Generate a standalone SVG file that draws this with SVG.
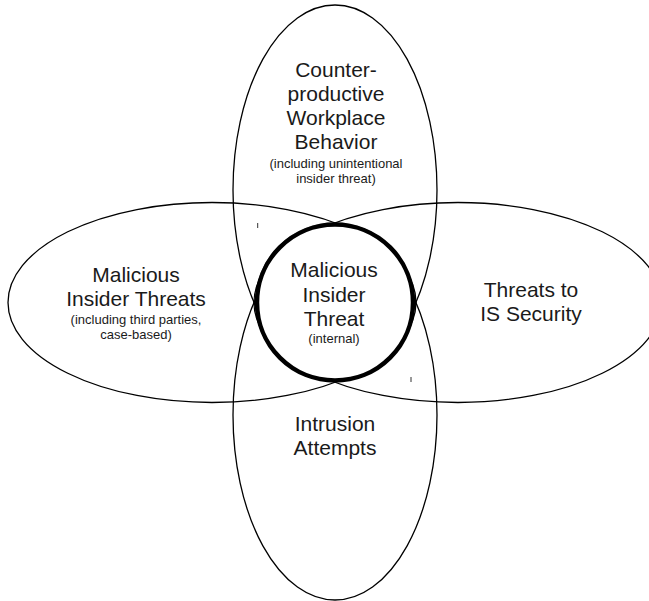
<svg xmlns="http://www.w3.org/2000/svg" width="649" height="601" viewBox="0 0 649 601">
<style>
.sh{fill:none;stroke:#000;stroke-width:1.3}
.t{font-family:"Liberation Sans",Arial,sans-serif;font-size:21px;fill:#1a1a1a;text-anchor:middle}
.s{font-family:"Liberation Sans",Arial,sans-serif;font-size:13px;fill:#1a1a1a;text-anchor:middle}
</style>
<rect width="649" height="601" fill="#fff"/>
<g id="counterproductive">
<ellipse class="sh" cx="335" cy="190" rx="102" ry="185"/>
<text class="t" x="336" y="77">Counter-</text>
<text class="t" x="336" y="101">productive</text>
<text class="t" x="336" y="125">Workplace</text>
<text class="t" x="336" y="149">Behavior</text>
<text class="s" x="336" y="168">(including unintentional</text>
<text class="s" x="336" y="183">insider threat)</text>
</g>
<g id="intrusion">
<ellipse class="sh" cx="335" cy="415" rx="102" ry="185"/>
<text class="t" x="335" y="431">Intrusion</text>
<text class="t" x="335" y="455">Attempts</text>
</g>
<g id="malicious-insider-threats">
<ellipse class="sh" cx="212" cy="302.5" rx="204" ry="100"/>
<text class="t" x="136" y="282">Malicious</text>
<text class="t" x="136" y="306">Insider Threats</text>
<text class="s" x="136" y="324">(including third parties,</text>
<text class="s" x="136" y="339">case-based)</text>
</g>
<g id="is-security">
<ellipse class="sh" cx="458" cy="302.5" rx="204" ry="100"/>
<text class="t" x="531" y="297">Threats to</text>
<text class="t" x="531" y="321">IS Security</text>
</g>
<g id="malicious-insider-threat">
<circle cx="335" cy="302.5" r="78" fill="#fff" stroke="#000" stroke-width="4.5"/>
<circle cx="334.5" cy="302" r="79" fill="none" stroke="#000" stroke-width="0.8" opacity="0.5"/>
<text class="t" x="334" y="277">Malicious</text>
<text class="t" x="334" y="302">Insider</text>
<text class="t" x="334" y="326">Threat</text>
<text class="s" x="334" y="343">(internal)</text>
</g>
<g id="connectors">
<line x1="257.7" y1="223" x2="257.7" y2="228" stroke="#333" stroke-width="1"/>
<line x1="411" y1="377" x2="411" y2="382" stroke="#333" stroke-width="1"/>
</g>
</svg>
